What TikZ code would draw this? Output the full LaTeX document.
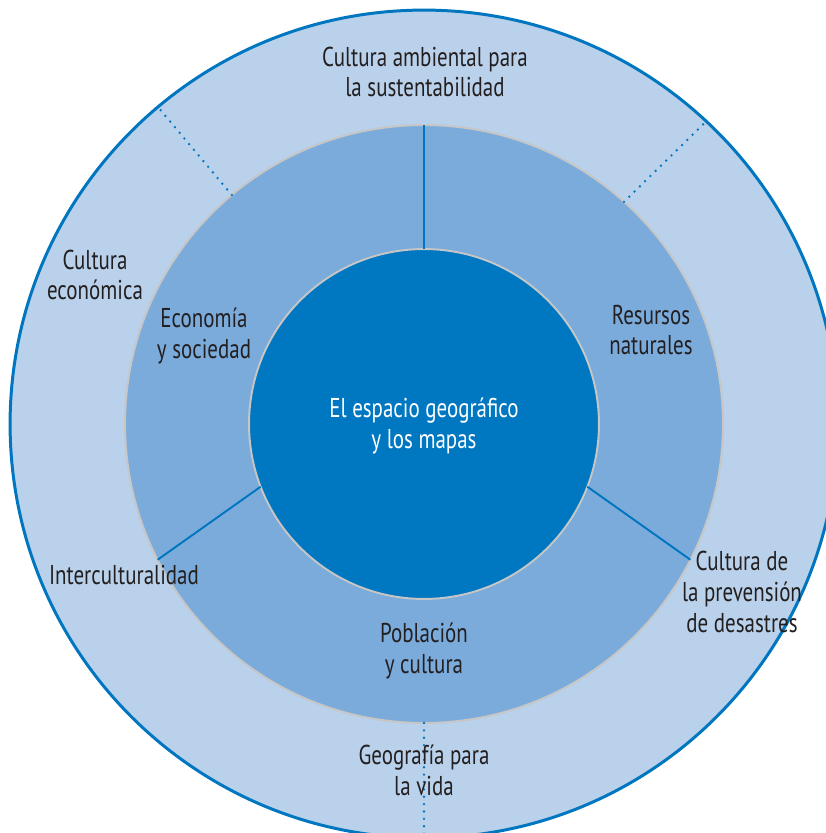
\documentclass[tikz,border=0pt]{standalone}
\usepackage{fontspec}
\setmainfont{PT Sans}[FakeStretch=0.77]
\usepackage{xcolor}

\definecolor{ringblue}{HTML}{0076C0}
\definecolor{outerfill}{HTML}{B9D1EA}
\definecolor{midfill}{HTML}{7AABDB}
\definecolor{corefill}{HTML}{0077C1}
\definecolor{edgegray}{HTML}{C6C6C6}
\definecolor{txtgray}{HTML}{231F20}

\begin{document}
\begin{tikzpicture}[x=0.02cm, y=0.02cm,
          disc/.style={circle, inner sep=0pt, outer sep=0pt},
          label/.style={align=center, text=txtgray, font=\fontsize{15.5}{17.6}\selectfont},
          split/.style={draw=ringblue, line width=1.1pt},
          dotline/.style={draw=ringblue, line width=1.5pt, line cap=round, dash pattern=on 0pt off 4.2pt},
        ]
          \useasboundingbox (-424,424) rectangle (402,-409);
          \node[disc, fill=outerfill, draw=ringblue, line width=1.7pt, minimum size=16.56cm] (outer) at (0,0) {};
          \node[disc, fill=midfill, draw=edgegray, line width=1.1pt, minimum size=11.96cm] (ring) at (0,0) {};
          \node[disc, fill=corefill, draw=edgegray, line width=1.1pt, minimum size=7cm] (core) at (0,0) {};
          \draw[split] (core.90) -- (ring.90);
          \draw[split] (core.201) -- (ring.207.5);
          \draw[split] (core.-21) -- (ring.-27.5);
          \draw[dotline] (ring.130) -- (outer.130.5);
          \draw[dotline] (ring.48) -- (outer.47.6);
          \draw[dotline] (ring.270) -- (outer.270);
          \node[label] (ambiental) at (1,352) {Cultura ambiental para\\la sustentabilidad};
          \node[label] (economica) at (-329,149) {Cultura\\económica};
          \node[label] (sociedad) at (-220,88) {Economía\\y sociedad};
          \node[label] (recursos) at (227,94) {Resursos\\naturales};
          \node[label, text=white] (espacio) at (0,-2) {El espacio geográfico\\y los mapas};
          \node[label] (intercult) at (-300,-151) {Interculturalidad};
          \node[label] (prevencion) at (318,-168) {Cultura de\\la prevensión\\de desastres};
          \node[label] (poblacion) at (0,-227) {Población\\y cultura};
          \node[label] (vida) at (0,-346) {Geografía para\\la vida};
        \end{tikzpicture}
\end{document}
